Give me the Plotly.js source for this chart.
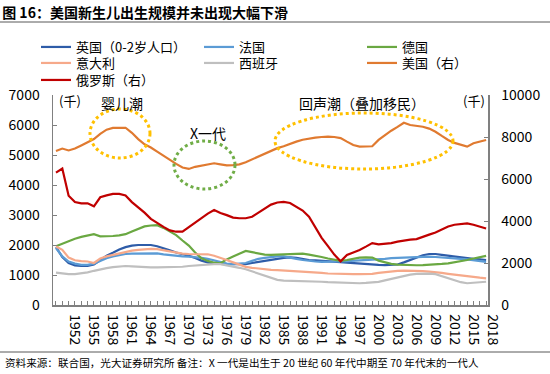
<!DOCTYPE html>
<html><head><meta charset="utf-8">
<script src="https://cdn.plot.ly/plotly-3.0.1.min.js"></script>
<style>body{margin:0;background:#fff}#c{width:550px;height:374px}</style>
</head><body><div id="c"></div>
<script>
const years = [];
for (let y = 1950; y <= 2018; y++) years.push(y);

const uk = [1930,1600,1400,1320,1300,1300,1350,1500,1640,1740,1850,1930,1980,2000,2010,2000,1960,1900,1820,1750,1700,1640,1570,1480,1420,1390,1370,1360,1355,1355,1360,1400,1440,1480,1510,1540,1570,1590,1570,1530,1500,1490,1480,1470,1450,1430,1410,1390,1380,1370,1350,1335,1330,1330,1350,1420,1500,1600,1660,1700,1700,1670,1640,1610,1580,1560,1540,1520,1500];
const france = [1900,1620,1450,1380,1340,1340,1380,1480,1560,1620,1670,1700,1715,1720,1725,1725,1720,1690,1660,1640,1620,1610,1600,1570,1540,1490,1430,1380,1360,1370,1400,1470,1540,1570,1600,1620,1620,1590,1540,1500,1470,1450,1440,1435,1440,1450,1460,1470,1480,1500,1510,1520,1540,1560,1570,1580,1590,1600,1605,1610,1600,1590,1580,1560,1540,1520,1490,1460,1440];
const germany = [1960,2050,2130,2210,2270,2320,2360,2290,2290,2300,2320,2360,2450,2540,2620,2650,2660,2570,2450,2330,2150,1980,1750,1560,1470,1410,1390,1520,1620,1710,1800,1760,1720,1680,1670,1680,1690,1700,1720,1710,1680,1650,1600,1550,1500,1470,1500,1550,1580,1590,1580,1480,1420,1370,1345,1330,1325,1325,1330,1335,1350,1370,1390,1420,1460,1500,1550,1600,1640];
const italy = [1950,1840,1580,1490,1460,1450,1400,1550,1620,1670,1720,1770,1810,1840,1865,1870,1860,1820,1780,1740,1710,1700,1700,1700,1690,1640,1580,1500,1420,1340,1270,1240,1210,1190,1170,1160,1150,1140,1130,1115,1105,1090,1070,1050,1040,1035,1035,1030,1030,1035,1040,1070,1100,1120,1135,1145,1145,1140,1130,1115,1100,1070,1040,1010,980,960,935,910,890];
const spain = [1080,1050,1030,1030,1050,1090,1140,1190,1230,1260,1290,1300,1290,1270,1260,1255,1255,1255,1260,1265,1275,1300,1320,1345,1355,1360,1365,1330,1280,1240,1190,1120,1040,960,900,840,815,810,810,810,805,790,775,760,750,740,730,725,725,735,745,770,820,870,920,970,1010,1040,1050,1045,1030,960,890,820,760,725,745,765,775];
const usa = [7330,7450,7360,7450,7600,7750,7900,8150,8350,8430,8440,8440,8200,7900,7650,7500,7300,7100,6900,6720,6550,6480,6580,6640,6700,6750,6700,6650,6660,6700,6800,6940,7070,7200,7350,7470,7560,7680,7780,7870,7930,7970,8000,8020,8000,7950,7780,7620,7540,7540,7560,7860,8100,8300,8480,8680,8570,8530,8490,8400,8250,8050,7860,7720,7620,7540,7700,7780,7860];
const russia = [6300,6500,5200,4900,4840,4840,4700,5130,5220,5290,5290,5220,4900,4650,4400,4100,3900,3720,3550,3490,3490,3700,3950,4150,4350,4520,4380,4280,4160,4130,4130,4200,4400,4600,4780,4880,4910,4860,4700,4500,4200,3700,3200,2800,2400,2080,2380,2500,2620,2780,2950,2890,2920,2950,3020,3080,3110,3140,3230,3350,3450,3600,3740,3820,3870,3890,3820,3730,3640];

const seriesNames = ['英国（0-2岁人口）','法国','德国','意大利','西班牙','美国（右）','俄罗斯（右）'];
const seriesColors = ['#2E5CA8','#5B9BD5','#6AA842','#F6A98A','#BFBFBF','#E07A30','#C00000'];
const seriesData = [uk, france, germany, italy, spain, usa, russia];
const seriesAxis = ['y','y','y','y','y','y2','y2'];
const seriesLegend = ['legend','legend','legend','legend2','legend2','legend2','legend3'];

const tickYears = years;
const tickLabels = years.map(y => ((y - 1952) % 3 === 0 && y >= 1952) ? String(y) : '');

const traces = seriesData.map((d, i) => ({
  x: years, y: d, type: 'scatter', mode: 'lines', name: seriesNames[i],
  yaxis: seriesAxis[i], legend: seriesLegend[i],
  line: {color: seriesColors[i], width: 2.2, shape: 'linear'}
}));

const L = 53, R = 488, T = 95, B = 305;
const px = v => (v - L) / (R - L);
const py = v => (B - v) / (B - T);
function ellipse(cx, cy, rx, ry, color) {
  return {type: 'circle', xref: 'paper', yref: 'paper',
    x0: px(cx - rx), x1: px(cx + rx), y0: py(cy + ry), y1: py(cy - ry),
    line: {color: color, width: 3, dash: 'dot'}};
}

const font = '"Noto Sans CJK SC", "Noto Sans", sans-serif';
function legendRow(topPx) {
  return {orientation: 'h', xref: 'paper', yref: 'paper',
    x: px(36), xanchor: 'left', y: py(topPx), yanchor: 'top',
    entrywidth: 118, entrywidthmode: 'pixels', itemwidth: 30,
    font: {family: font, size: 13, color: '#000'}, tracegroupgap: 0,
    bgcolor: 'rgba(0,0,0,0)', borderwidth: 0, itemclick: false};
}

const layout = {
  width: 550, height: 374,
  margin: {l: L, r: 550 - R, t: T, b: 374 - B},
  paper_bgcolor: '#fff', plot_bgcolor: '#fff',
  font: {family: font, size: 13, color: '#000'},
  showlegend: true,
  legend: legendRow(32),
  legend2: legendRow(48),
  legend3: legendRow(65),
  xaxis: {type: 'linear', range: [1949.53, 2018.3], tickvals: tickYears, ticktext: tickLabels,
    tickangle: 90, ticks: 'inside', ticklen: 4, tickcolor: '#808080', tickwidth: 1,
    ticklabelstandoff: 5, ticklabelshift: 6,
    showline: true, linecolor: '#808080', linewidth: 1.5, showgrid: false, zeroline: false,
    tickfont: {family: font, size: 14, color: '#000'}},
  yaxis: {range: [0, 7000], dtick: 1000, tick0: 0, ticks: 'inside', ticklen: 4,
    tickcolor: '#808080', showline: true, linecolor: '#808080', linewidth: 1.5,
    ticklabelstandoff: 9, tickformat: 'd',
    showgrid: false, zeroline: false, tickfont: {family: font, size: 14, color: '#000'}},
  yaxis2: {range: [0, 10000], dtick: 2000, tick0: 0, overlaying: 'y', side: 'right',
    ticks: 'inside', ticklen: 4, tickcolor: '#808080', showline: true, linecolor: '#808080',
    linewidth: 1.5, showgrid: false, zeroline: false, tickformat: 'd', ticklabelstandoff: 9,
    tickfont: {family: font, size: 14, color: '#000'}},
  title: {text: '<b>图 16：美国新生儿出生规模并未出现大幅下滑</b>', xref: 'container', yref: 'container',
    x: 0.004, xanchor: 'left', y: 1 - 13/374, yanchor: 'middle',
    font: {family: font, size: 14, color: '#000'}},
  shapes: [
    {type: 'line', xref: 'paper', yref: 'paper', x0: px(0), x1: px(550), y0: py(22), y1: py(22),
      line: {color: '#595959', width: 1}},
    {type: 'line', xref: 'paper', yref: 'paper', x0: px(0), x1: px(550), y0: py(352), y1: py(352),
      line: {color: '#595959', width: 1}},
    ellipse(120, 133.5, 30, 24.5, '#FFC000'),
    ellipse(204.5, 165, 30.5, 24, '#70AD47'),
    ellipse(364, 141, 89, 28, '#FFC000')
  ],
  annotations: [
    {text: '(千)', xref: 'paper', yref: 'paper', x: px(57), y: py(100), xanchor: 'left', yanchor: 'middle', showarrow: false, font: {size: 13}},
    {text: '(千)', xref: 'paper', yref: 'paper', x: px(487), y: py(100), xanchor: 'right', yanchor: 'middle', showarrow: false, font: {size: 13}},
    {text: '婴儿潮', xref: 'paper', yref: 'paper', x: px(122), y: py(103), xanchor: 'center', yanchor: 'middle', showarrow: false, font: {size: 14}},
    {text: 'X一代', xref: 'paper', yref: 'paper', x: px(208), y: py(133), xanchor: 'center', yanchor: 'middle', showarrow: false, font: {size: 14}},
    {text: '回声潮（叠加移民）', xref: 'paper', yref: 'paper', x: px(362), y: py(103), xanchor: 'center', yanchor: 'middle', showarrow: false, font: {size: 14}},
    {text: '资料来源：联合国，光大证券研究所 备注：X 一代是出生于 20 世纪 60 年代中期至 70 年代末的一代人', xref: 'paper', yref: 'paper', x: px(3), y: py(362), xanchor: 'left', yanchor: 'middle', showarrow: false, font: {size: 10.6}}
  ]
};
Plotly.newPlot('c', traces, layout, {staticPlot: true, displayModeBar: false});
</script></body></html>
